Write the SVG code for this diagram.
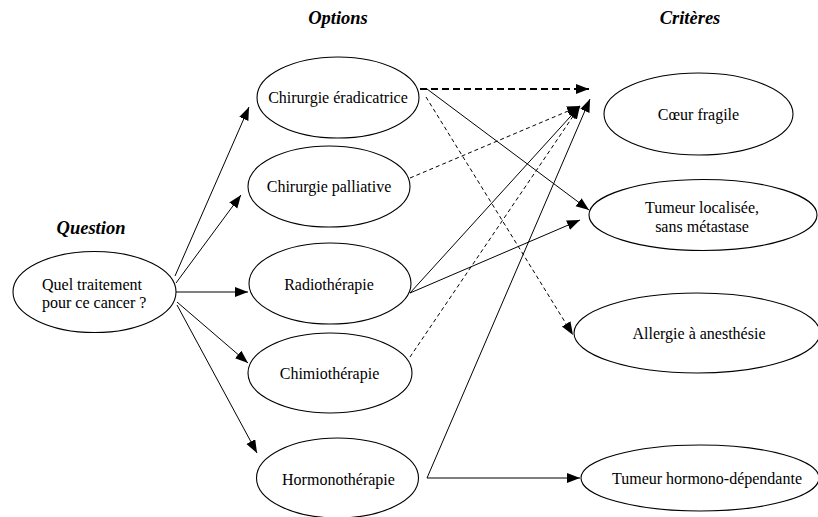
<svg xmlns="http://www.w3.org/2000/svg" width="818" height="517" viewBox="0 0 818 517">
  <style>
    .node ellipse { fill: #ffffff; stroke: #000000; stroke-width: 1.1; }
    .node text { font-family: "Liberation Serif", "Times New Roman", serif; font-size: 16px; fill: #000000; text-anchor: middle; }
    .head { font-family: "Liberation Serif", "Times New Roman", serif; font-size: 18.5px; font-weight: bold; font-style: italic; fill: #000000; text-anchor: middle; }
    .edge { fill: none; stroke: #000000; stroke-width: 1; marker-end: url(#arrow); }
    .dash { stroke-dasharray: 4 3; }
    .bold { stroke-width: 2.2; stroke-dasharray: 7 4; }
  </style>
  <defs>
    <marker id="arrow" markerUnits="userSpaceOnUse" markerWidth="14" markerHeight="11" refX="13" refY="5" orient="auto">
      <path d="M0,0 L13,5 L0,10 Z" fill="#000000" stroke="none"/>
    </marker>
  </defs>

  <rect width="818" height="517" fill="#ffffff"/>

  <!-- column headings -->
  <text class="head" x="338" y="24">Options</text>
  <text class="head" x="690" y="24">Critères</text>
  <text class="head" x="91" y="234">Question</text>

  <!-- connectors -->
  <g id="connectors">
    <!-- question to options -->
    <path class="edge" d="M175,276 L249,107"/>
    <path class="edge" d="M176,283 L241,195"/>
    <path class="edge" d="M176,292 L248,292"/>
    <path class="edge" d="M177,302 L248,363"/>
    <path class="edge" d="M177,305 L257,453"/>
    <!-- options to criteria -->
    <path class="edge bold" d="M420,89 L589,89"/>
    <path class="edge" d="M427,89 L589,210"/>
    <path class="edge dash" d="M426,97 L573,335"/>
    <path class="edge dash" d="M410,178 L580,106"/>
    <path class="edge" d="M410,293 L580,106"/>
    <path class="edge" d="M410,293 L580,220"/>
    <path class="edge dash" d="M410,357 L580,106"/>
    <path class="edge" d="M427,478 L590,99"/>
    <path class="edge" d="M427,478 L580,478"/>
  </g>

  <!-- question -->
  <g id="question" class="node">
    <ellipse cx="94.5" cy="292" rx="81.5" ry="40.5"/>
    <text x="42" y="290" style="text-anchor:start">Quel traitement</text>
    <text x="42" y="308" style="text-anchor:start">pour ce cancer ?</text>
  </g>

  <!-- options -->
  <g id="chirurgie-eradicatrice" class="node">
    <ellipse cx="338" cy="97.5" rx="81" ry="40.5"/>
    <text x="338" y="103">Chirurgie éradicatrice</text>
  </g>
  <g id="chirurgie-palliative" class="node">
    <ellipse cx="329" cy="186.5" rx="81" ry="40.5"/>
    <text x="329" y="192">Chirurgie palliative</text>
  </g>
  <g id="radiotherapie" class="node">
    <ellipse cx="330" cy="283.5" rx="81" ry="40.5"/>
    <text x="329" y="290">Radiothérapie</text>
  </g>
  <g id="chimiotherapie" class="node">
    <ellipse cx="330" cy="373" rx="82" ry="40"/>
    <text x="329.5" y="379">Chimiothérapie</text>
  </g>
  <g id="hormonotherapie" class="node">
    <ellipse cx="337.5" cy="478" rx="81" ry="40"/>
    <text x="338.5" y="485">Hormonothérapie</text>
  </g>

  <!-- criteria -->
  <g id="coeur-fragile" class="node">
    <ellipse cx="698.5" cy="114" rx="94.5" ry="41"/>
    <text x="698.5" y="120">Cœur fragile</text>
  </g>
  <g id="tumeur-localisee" class="node">
    <ellipse cx="703" cy="215" rx="114" ry="35.5"/>
    <text x="702" y="213">Tumeur localisée,</text>
    <text x="702" y="232">sans métastase</text>
  </g>
  <g id="allergie-anesthesie" class="node">
    <ellipse cx="697" cy="333" rx="123" ry="40"/>
    <text x="699" y="339">Allergie à anesthésie</text>
  </g>
  <g id="tumeur-hormono-dependante" class="node">
    <ellipse cx="700" cy="478" rx="119" ry="33"/>
    <text x="707" y="484">Tumeur hormono-dépendante</text>
  </g>
</svg>
